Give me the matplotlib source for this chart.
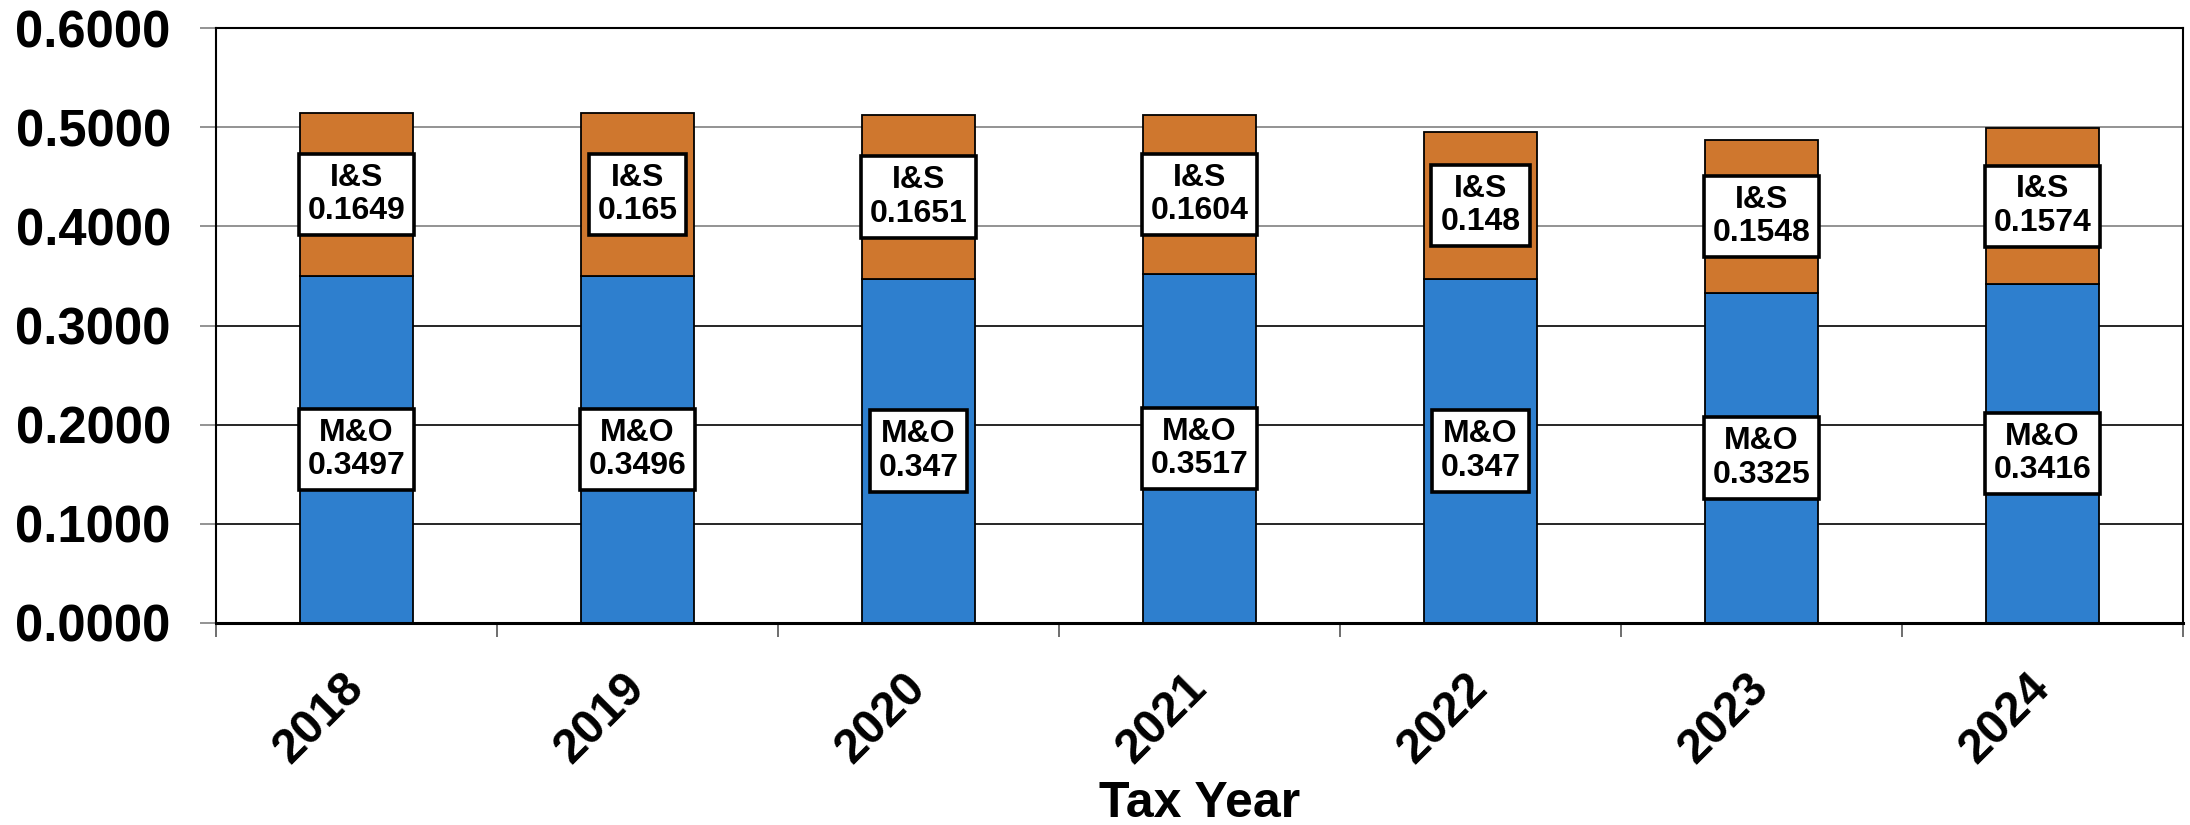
import matplotlib
matplotlib.use("Agg")
import matplotlib.pyplot as plt
import numpy as np

# Tax rate components by tax year
years = ["2018", "2019", "2020", "2021", "2022", "2023", "2024"]
mo_rate = [0.3497, 0.3496, 0.347, 0.3517, 0.347, 0.3325, 0.3416]
is_rate = [0.1649, 0.165, 0.1651, 0.1604, 0.148, 0.1548, 0.1574]
mo_name = "M&O"
is_name = "I&S"
y_ticks = [0.0, 0.1, 0.2, 0.3, 0.4, 0.5, 0.6]

plt.rcParams["font.family"] = ["Liberation Sans", "DejaVu Sans"]
plt.rcParams["font.weight"] = "bold"

BLUE = "#2E7FCE"
ORANGE = "#CF772E"

fig = plt.figure(figsize=(21.9, 8.25), dpi=100)
ax = fig.add_axes([216 / 2190, 1 - 623 / 825, (2183 - 216) / 2190, (623 - 28) / 825])

x = np.arange(len(years))
mo = np.array(mo_rate)
isr = np.array(is_rate)

ax.bar(x, mo, width=0.4, color=BLUE, edgecolor="black", linewidth=1.3, zorder=3)
ax.bar(x, isr, width=0.4, bottom=mo, color=ORANGE, edgecolor="black", linewidth=1.3, zorder=3)

box = dict(boxstyle="square,pad=0.28", fc="white", ec="black", lw=2.6)
for xi, m, s in zip(x, mo, isr):
    ax.text(xi, m / 2, f"{mo_name}\n{m:g}", ha="center", va="center", fontsize=23,
            fontweight="bold", linespacing=1.15, bbox=box, zorder=5)
    ax.text(xi, m + s / 2, f"{is_name}\n{s:g}", ha="center", va="center", fontsize=23,
            fontweight="bold", linespacing=1.15, bbox=box, zorder=5)

ax.set_xlim(-0.5, len(years) - 0.5)
ax.set_ylim(0, 0.6)

# y axis
ax.set_yticks(y_ticks)
ax.set_yticklabels([f"{v:.4f}" for v in y_ticks], fontsize=36.5, fontweight="bold")
ax.tick_params(axis="y", length=11.5, width=1.2, color="#808080", pad=21)
ax.grid(axis="y", zorder=0, linewidth=1.2)
for val, gl in zip(y_ticks, ax.get_ygridlines()):
    gl.set_color("#808080" if val >= 0.35 else "black")

# x axis: ticks at category boundaries, labels at centres
ax.set_xticks(np.arange(-0.5, len(years)), labels=[""] * (len(years) + 1))
ax.tick_params(axis="x", which="major", length=10, width=1.2, color="#555555")
ax.set_xticks(x, labels=years, minor=True)
ax.tick_params(axis="x", which="minor", length=0, pad=42, labelsize=34.5)
for lbl in ax.get_xticklabels(minor=True):
    lbl.set_rotation(45)
    lbl.set_ha("right")
    lbl.set_va("center")
    lbl.set_rotation_mode("anchor")
    lbl.set_fontweight("bold")

ax.set_xlabel("Tax Year", fontsize=36, fontweight="bold")
ax.xaxis.set_label_coords(0.5, -0.265)

for side in ["left", "right", "top"]:
    ax.spines[side].set_color("black")
    ax.spines[side].set_linewidth(1.5)
ax.spines["bottom"].set_linewidth(2.2)
ax.spines["bottom"].set_zorder(4)

fig.savefig("out.png", dpi=100, facecolor="white")
